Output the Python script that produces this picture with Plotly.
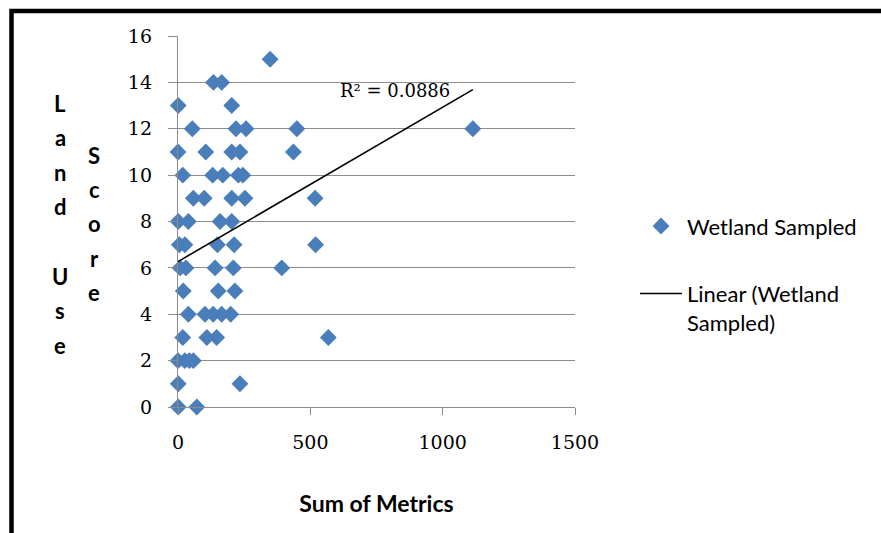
import plotly.graph_objects as go

# ---------------- data ----------------
sum_of_metrics = [
    348,
    134, 165,
    1, 203,
    54, 219, 257, 449, 1114,
    0, 105, 203, 234, 436,
    18, 131, 169, 228, 245,
    58, 99, 203, 253, 518,
    1, 39, 159, 203,
    5, 26, 149, 212, 520,
    8, 30, 140, 209, 392,
    20, 152, 215,
    39, 102, 133, 165, 199,
    18, 109, 146, 568,
    0, 26, 43, 58,
    1, 234,
    1, 71,
]
land_use_score = [
    15,
    14, 14,
    13, 13,
    12, 12, 12, 12, 12,
    11, 11, 11, 11, 11,
    10, 10, 10, 10, 10,
    9, 9, 9, 9, 9,
    8, 8, 8, 8,
    7, 7, 7, 7, 7,
    6, 6, 6, 6, 6,
    5, 5, 5,
    4, 4, 4, 4, 4,
    3, 3, 3, 3,
    2, 2, 2, 2,
    1, 1,
    0, 0,
]
# linear trendline as shown in the chart
trend_intercept = 6.27
trend_slope = 0.00666
r_squared_label = "R² = 0.0886"

x_ticks = [0, 500, 1000, 1500]
y_ticks = [0, 2, 4, 6, 8, 10, 12, 14, 16]
series_name = "Wetland Sampled"
trend_name = "Linear (Wetland<br>Sampled)"
x_title = "Sum of Metrics"
y_title_col1 = ["L", "a", "n", "d", "", "U", "s", "e"]
y_title_col2 = ["S", "c", "o", "r", "e"]

# ---------------- layout geometry ----------------
W, H = 881, 533
PL, PR, PT, PB = 178, 575, 36, 406.7


def pxx(px):
    return (px - PL) / (PR - PL)


def pxy(py):
    return (PB - py) / (PB - PT)


trend_x = [min(sum_of_metrics), max(sum_of_metrics)]
trend_y = [trend_intercept + trend_slope * v for v in trend_x]

fig = go.Figure()
fig.add_trace(go.Scatter(
    x=sum_of_metrics, y=land_use_score, mode="markers", name=series_name,
    marker=dict(symbol="diamond", size=13, color="#4A7EBB", line=dict(width=0)),
    cliponaxis=False, legendgroup="a",
))
fig.add_trace(go.Scatter(
    x=trend_x, y=trend_y, mode="lines", name=trend_name,
    line=dict(color="black", width=1.6), legendgroup="b",
))

grid = "#8C8C8C"
tick_font = dict(family="DejaVu Serif", size=19, color="black")
fig.update_xaxes(
    range=[0, 1500], tickvals=x_ticks, showgrid=False, zeroline=False,
    showline=True, linecolor=grid, linewidth=1.3,
    ticks="outside", ticklen=7, tickcolor=grid, tickwidth=1.3,
    ticklabelstandoff=11,
    tickfont=tick_font,
    title=dict(text=x_title, standoff=43,
               font=dict(family="Lato", size=23, color="black", weight="bold")),
)
fig.update_yaxes(
    range=[0, 16], tickvals=y_ticks, showgrid=True, gridcolor=grid, gridwidth=1.3,
    zeroline=False, showline=True, linecolor=grid, linewidth=1.3,
    ticks="outside", ticklen=9, tickcolor=grid, tickwidth=1.3,
    ticklabelstandoff=12,
    tickfont=tick_font,
)

annotations = [dict(
    x=820, y=13.67, xref="x", yref="y", text=r_squared_label, showarrow=False,
    xanchor="center", yanchor="middle",
    font=dict(family="DejaVu Serif", size=18, color="black"),
)]
letter_font = dict(family="Lato", size=22, color="black", weight="bold")
for i, ch in enumerate(y_title_col1):
    if ch:
        annotations.append(dict(x=pxx(60), y=pxy(103 + i * 34.6), xref="paper", yref="paper",
                                xanchor="center", yanchor="middle",
                                text=ch, showarrow=False, font=letter_font))
for i, ch in enumerate(y_title_col2):
    annotations.append(dict(x=pxx(94), y=pxy(155 + i * 34.4), xref="paper", yref="paper",
                            xanchor="center", yanchor="middle",
                            text=ch, showarrow=False, font=letter_font))

shapes = [dict(
    type="rect", xref="paper", yref="paper",
    x0=pxx(11.5), y0=pxy(700), x1=pxx(1200), y1=pxy(11),
    line=dict(color="black", width=4.5), fillcolor="rgba(0,0,0,0)", layer="above",
)]

fig.update_layout(
    width=W, height=H,
    margin=dict(l=PL, r=W - PR, t=PT, b=H - PB),
    paper_bgcolor="white", plot_bgcolor="white",
    showlegend=True,
    legend=dict(
        x=pxx(635), y=pxy(205), xanchor="left", yanchor="top",
        font=dict(family="Lato", size=22, color="black"),
        valign="top", tracegroupgap=36, itemwidth=42,
        bgcolor="rgba(0,0,0,0)",
    ),
    annotations=annotations, shapes=shapes,
)

fig.write_html("out.html")
